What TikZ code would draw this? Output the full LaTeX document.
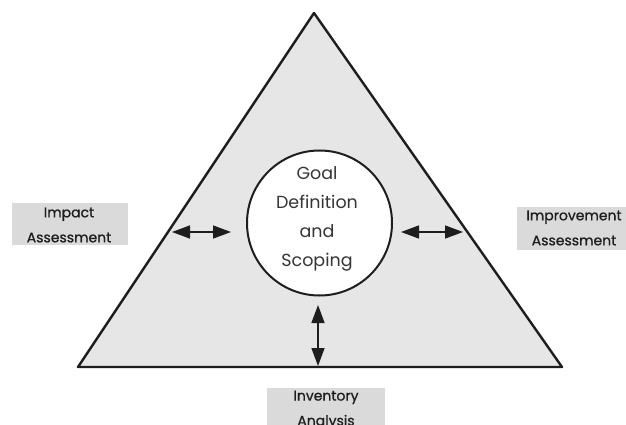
\documentclass[tikz,border=0pt]{standalone}
\usepackage{fontspec}
\setmainfont{Poppins}
\newfontfamily\tagfont{Poppins}[FakeBold=0.9]
\usetikzlibrary{arrows.meta}
\definecolor{panel}{HTML}{E6E6E6}
\definecolor{tag}{HTML}{DADADA}
\definecolor{ink}{HTML}{1E1E1E}
\tikzset{
  frame/.style={draw=ink, line width=2.4pt, line join=round, fill=panel},
  core/.style={circle, draw=ink, line width=2pt, fill=white, minimum size=145pt, inner sep=0pt},
  tagbox/.style={fill=tag, inner sep=0pt},
  tagtext/.style={text=ink, font=\tagfont\fontsize{14}{25}\selectfont, align=center},
  coretext/.style={text=ink!90, font=\fontsize{17.5}{29}\selectfont, align=center},
  link/.style={draw=ink, line width=1.5pt, {Triangle[length=18pt,width=13pt]}-{Triangle[length=18pt,width=13pt]}}
}
\begin{document}
\begin{tikzpicture}[x=1pt, y=-1pt]
  \clip (0,0) rectangle (626,425);
  \fill[white] (0,0) rectangle (626,425);

  % outer triangle
  \coordinate (apex) at (314,13);
  \coordinate (bl) at (78,367);
  \coordinate (br) at (562,367);
  \draw[frame] (apex) -- (br) -- (bl) -- cycle;

  % central circle
  \node[core] (goal) at (319.5,223) {};
  \node[coretext] (goaltext) at (317,219) {Goal\\Definition\\and\\Scoping};

  % side labels
  \node[tagbox, minimum width=116pt, minimum height=42pt] (impact) at (70,224) {};
  \node[tagtext] at (69,225) {Impact\\Assessment};
  \node[tagbox, minimum width=112pt, minimum height=43pt] (improve) at (573,228.5) {};
  \node[tagtext] at (574,228) {Improvement\\Assessment};
  \node[tagbox, minimum width=118pt, minimum height=45pt] (inventory) at (326,410.5) {};
  \node[tagtext] at (326,410) {Inventory\\Analysis};

  % exchange arrows
  \coordinate (lA) at (172,232);
  \coordinate (lB) at (goal.west |- lA);
  \coordinate (rA) at (goal.east |- lA);
  \coordinate (rB) at (463,232);
  \coordinate (bA) at (318,305);
  \coordinate (bB) at (318,366);
  \draw[link] (lA) -- ([xshift=-15pt]lB);
  \draw[link] ([xshift=8pt]rA) -- (rB);
  \draw[link] (bA) -- (bB);
\end{tikzpicture}
\end{document}
